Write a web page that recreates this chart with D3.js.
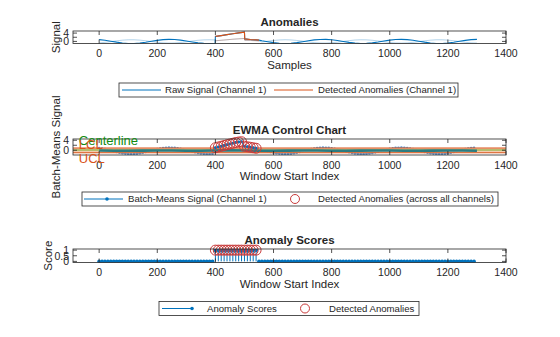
<!DOCTYPE html>
<html><head><meta charset="utf-8">
<script src="https://cdn.jsdelivr.net/npm/d3@7"></script>
<style>body{margin:0;background:#fff}svg{display:block}text{font-family:Arial,"Liberation Sans",Helvetica,sans-serif;fill:#262626}</style>
</head><body>
<script>
// ---------- DATA ----------
const xTicks = [0,200,400,600,800,1000,1200,1400];
const signalTicks = [0,2,4];
const signalTickLabels = ["0","","4"];
const ewmaTicks = [0,2,4];
const ewmaTickLabels = ["0","","4"];
const scoreTicks = [0,0.5,1];
const scoreTickLabels = ["0","0.5","1"];

const sampleIdx = [0,20,40,60,80,100,120,140,160,180,200,220,240,260,280,300,320,340,360,380,399,400,420,440,460,480,500,501,520,540,550,560,580,600,620,640,660,680,700,720,740,760,780,800,820,840,860,880,900,920,940,960,980,1000,1020,1040,1060,1080,1100,1120,1140,1160,1180,1200,1220,1240,1260,1280,1300];
const rawCh1 = [0.87,0.54,0.10,-0.36,-0.75,-0.97,-0.97,-0.77,-0.39,0.08,0.52,0.86,1.00,0.92,0.64,0.22,-0.25,-0.67,-0.93,-0.99,-0.86,2.40,2.80,3.25,3.70,4.10,4.45,1.20,0.95,0.75,0.60,0.33,-0.14,-0.57,-0.88,-1.00,-0.89,-0.59,-0.16,0.31,0.72,0.95,0.99,0.80,0.44,-0.02,-0.47,-0.82,-0.99,-0.94,-0.68,-0.28,0.19,0.62,0.91,1.00,0.87,0.54,0.10,-0.36,-0.75,-0.97,-0.98,-0.77,-0.39,0.08,0.52,0.85,1.00];
const rawCh2 = [-0.70,-0.43,-0.08,0.29,0.60,0.78,0.78,0.62,0.31,-0.06,-0.42,-0.69,-0.80,-0.74,-0.51,-0.18,0.20,0.54,0.74,0.79,0.70,0.30,0.55,0.80,1.05,1.25,1.40,0.55,0.45,0.35,0.25,-0.26,0.11,0.46,0.70,0.80,0.71,0.47,0.13,-0.25,-0.58,-0.76,-0.79,-0.64,-0.35,0.02,0.38,0.66,0.79,0.75,0.54,0.22,-0.15,-0.50,-0.73,-0.80,-0.70,-0.43,-0.08,0.29,0.60,0.78,0.78,0.62,0.31,-0.06,-0.42,-0.68,-0.80];
const anomSampleIdx = [400,420,440,460,480,500,501,520,540,550];
const anomCh1 = [2.40,2.80,3.25,3.70,4.10,4.45,1.20,0.95,0.75,0.60];
const anomCh2 = [0.30,0.55,0.80,1.05,1.25,1.40,0.55,0.45,0.35,0.25];

const windowIdx = [0,10,20,30,40,50,60,70,80,90,100,110,120,130,140,150,160,170,180,190,200,210,220,230,240,250,260,270,280,290,300,310,320,330,340,350,360,370,380,390,400,410,420,430,440,450,460,470,480,490,500,510,520,530,540,550,560,570,580,590,600,610,620,630,640,650,660,670,680,690,700,710,720,730,740,750,760,770,780,790,800,810,820,830,840,850,860,870,880,890,900,910,920,930,940,950,960,970,980,990,1000,1010,1020,1030,1040,1050,1060,1070,1080,1090,1100,1110,1120,1130,1140,1150,1160,1170,1180,1190,1200,1210,1220,1230,1240,1250,1260,1270,1280,1290];
const batchMeans = [0.88,0.70,0.47,0.20,-0.09,-0.39,-0.68,-0.95,-1.17,-1.34,-1.45,-1.49,-1.46,-1.36,-1.19,-0.97,-0.71,-0.42,-0.12,0.17,0.45,0.68,0.87,0.99,1.05,1.03,0.95,0.80,0.59,0.34,0.06,-0.24,-0.54,-0.82,-1.07,-1.27,-1.41,-1.48,-1.48,-1.42,
 1.00,1.30,1.60,1.90,2.20,2.50,2.80,3.10,3.30,3.40,1.60,1.40,1.20,1.00,0.80,
 0.47,0.20,-0.09,-0.39,-0.68,-0.95,-1.17,-1.34,-1.45,-1.49,-1.46,-1.36,-1.19,-0.97,-0.71,-0.42,-0.12,0.17,0.45,0.68,0.87,0.99,1.05,1.03,0.95,0.80,0.59,0.34,0.06,-0.24,-0.54,-0.82,-1.07,-1.27,-1.41,-1.48,-1.48,-1.42,-1.28,-1.09,-0.84,-0.57,-0.27,0.03,0.31,0.57,0.78,0.94,1.03,1.05,1.00,0.88,0.70,0.47,0.20,-0.09,-0.39,-0.68,-0.95,-1.17,-1.34,-1.45,-1.49,-1.46,-1.36,-1.19,-0.97,-0.71,-0.42,-0.12,0.17,0.45,0.68,0.87,0.99];
const ewmaIdx = [0,50,100,150,200,250,300,350,400,450,500,550,600,650,700,750,800,850,900,950,1000,1050,1100,1150,1200,1250,1300];
const ewmaValues = [-0.10,-0.18,-0.22,-0.15,-0.08,-0.12,-0.20,-0.22,-0.10,-0.05,-0.10,-0.20,-0.22,-0.15,-0.08,-0.10,-0.18,-0.22,-0.15,-0.08,-0.10,-0.18,-0.22,-0.15,-0.08,-0.12,-0.18];
const ucl = 0.9, centerline = 0.1, lcl = -1.0;
const controlLabels = ["Centerline","LCL","UCL"];
const anomalyWindows = [400,410,420,430,440,450,460,470,480,490,500,510,520,530,540];
const scores = [0,0,0,0,0,0,0,0,0,0,0,0,0,0,0,0,0,0,0,0,0,0,0,0,0,0,0,0,0,0,0,0,0,0,0,0,0,0,0,0,
 1,1,1,1,1,1,1,1,1,1,1,1,1,1,1,
 0,0,0,0,0,0,0,0,0,0,0,0,0,0,0,0,0,0,0,0,0,0,0,0,0,0,0,0,0,0,0,0,0,0,0,0,0,0,0,0,0,0,0,0,0,0,0,0,0,0,0,0,0,0,0,0,0,0,0,0,0,0,0,0,0,0,0,0,0,0,0,0,0,0,0];

// ---------- STYLE ----------
const BLUE = "#0072BD", ORANGE = "#D95319", RED = "#C93B3B", GREEN = "#77AC30", DKGREEN = "#128A12", TEAL = "#2B7B80", AX = "#262626";
const W = 560, H = 337;
const svg = d3.select("body").append("svg").attr("width", W).attr("height", H);
const x = d3.scaleLinear().domain([-90, 1400]).range([73, 506]);

function axesBox(y, opts) {
  const [top, bottom] = [y.range()[1], y.range()[0]];
  const g = svg.append("g");
  const id = "clip" + Math.round(top);
  svg.append("clipPath").attr("id", id).append("rect")
    .attr("x", 73).attr("y", top).attr("width", 433).attr("height", bottom - top);
  const plot = g.append("g").attr("clip-path", `url(#${id})`);
  const over = svg.append("g");
  const axg = svg.append("g").attr("class", "axes");
  axg.append("rect").attr("x", 73).attr("y", top).attr("width", 433).attr("height", bottom - top)
    .attr("fill", "none").attr("stroke", AX).attr("stroke-width", 0.8);
  const tl = 4;
  xTicks.forEach(t => {
    const px = x(t);
    axg.append("line").attr("x1", px).attr("x2", px).attr("y1", bottom).attr("y2", bottom - tl).attr("stroke", AX).attr("stroke-width", 0.8);
    axg.append("line").attr("x1", px).attr("x2", px).attr("y1", top).attr("y2", top + tl).attr("stroke", AX).attr("stroke-width", 0.8);
    axg.append("text").attr("x", px).attr("y", bottom + 13.5).attr("text-anchor", "middle").attr("font-size", 10.5).text(d3.format("d")(t));
  });
  opts.yTicks.forEach((t, i) => {
    const py = y(t);
    axg.append("line").attr("x1", 73).attr("x2", 73 + tl).attr("y1", py).attr("y2", py).attr("stroke", AX).attr("stroke-width", 0.8);
    axg.append("line").attr("x1", 506).attr("x2", 506 - tl).attr("y1", py).attr("y2", py).attr("stroke", AX).attr("stroke-width", 0.8);
    if (opts.yLabels[i]) axg.append("text").attr("x", 69).attr("y", py + 3.8).attr("text-anchor", "end").attr("font-size", 10.5).text(opts.yLabels[i]);
  });
  axg.append("text").attr("x", 289.5).attr("y", top - 5.5).attr("text-anchor", "middle").attr("font-size", 11.5).attr("font-weight", "bold").text(opts.title);
  axg.append("text").attr("x", 289.5).attr("y", bottom + 25).attr("text-anchor", "middle").attr("font-size", 11.5).text(opts.xlabel);
  axg.append("text").attr("transform", `translate(${opts.ylx},${(top + bottom) / 2}) rotate(-90)`).attr("text-anchor", "middle").attr("dy", "0.35em").attr("font-size", 11.5).text(opts.ylabel);
  return { plot, over, axg };
}

function legend(x0, x1, yc, items) {
  const g = svg.append("g");
  g.append("rect").attr("x", x0).attr("y", yc - 7).attr("width", x1 - x0).attr("height", 14).attr("fill", "#fff").attr("stroke", AX).attr("stroke-width", 0.8);
  items.forEach(it => {
    if (it.type === "line") {
      g.append("line").attr("x1", it.a).attr("x2", it.b).attr("y1", yc).attr("y2", yc).attr("stroke", it.color).attr("stroke-width", 1);
      if (it.dot != null) g.append("circle").attr("cx", it.dot).attr("cy", yc).attr("r", 1.8).attr("fill", it.color);
    } else {
      g.append("circle").attr("cx", it.a).attr("cy", yc).attr("r", 4.5).attr("fill", "none").attr("stroke", it.color).attr("stroke-width", 1);
    }
    g.append("text").attr("x", it.tx).attr("y", yc + 3.4).attr("font-size", 9.6).text(it.label);
  });
}

// ---------- PANEL 1 ----------
const y1 = d3.scaleLinear().domain([-1, 5]).range([43.5, 31]);
const p1 = axesBox(y1, { yTicks: signalTicks, yLabels: signalTickLabels, title: "Anomalies", xlabel: "Samples", ylabel: "Signal", ylx: 56 });
const line1 = d3.line().x(d => x(d[0])).y(d => y1(d[1]));
p1.plot.append("path").attr("d", line1(sampleIdx.map((s, i) => [s, rawCh2[i]]))).attr("fill", "none").attr("stroke", BLUE).attr("stroke-opacity", 0.3).attr("stroke-width", 1);
p1.plot.append("path").attr("d", line1(anomSampleIdx.map((s, i) => [s, anomCh2[i]]))).attr("fill", "none").attr("stroke", ORANGE).attr("stroke-opacity", 0.3).attr("stroke-width", 1);
p1.plot.append("path").attr("d", line1(sampleIdx.map((s, i) => [s, rawCh1[i]]))).attr("fill", "none").attr("stroke", BLUE).attr("stroke-width", 1.1);
p1.plot.append("path").attr("d", line1(anomSampleIdx.map((s, i) => [s, anomCh1[i]]))).attr("fill", "none").attr("stroke", ORANGE).attr("stroke-width", 1.1);
legend(119, 458, 90, [
  { type: "line", a: 122, b: 161, color: BLUE, tx: 165, label: "Raw Signal (Channel 1)" },
  { type: "line", a: 274, b: 313, color: ORANGE, tx: 318, label: "Detected Anomalies (Channel 1)" }
]);

// ---------- PANEL 2 ----------
const y2 = d3.scaleLinear().domain([-1.9, 4.5]).range([155, 139]);
const p2 = axesBox(y2, { yTicks: ewmaTicks, yLabels: ewmaTickLabels, title: "EWMA Control Chart", xlabel: "Window Start Index", ylabel: "Batch-Means Signal", ylx: 56 });
const line2 = d3.line().x(d => x(d[0])).y(d => y2(d[1]));
const bm = windowIdx.map((w, i) => [w, batchMeans[i]]);
p2.plot.append("path").attr("d", line2(bm)).attr("fill", "none").attr("stroke", BLUE).attr("stroke-opacity", 0.5).attr("stroke-width", 0.8);
p2.plot.selectAll("circle.bm").data(bm).enter().append("circle").attr("cx", d => x(d[0])).attr("cy", d => y2(d[1])).attr("r", 1.3).attr("fill", "#5A97D2");
p2.plot.append("rect").attr("x", 73).attr("width", 433).attr("y", y2(ucl)).attr("height", y2(lcl) - y2(ucl)).attr("fill", "#F2C9A8").attr("fill-opacity", 0.92);
[[ucl, ORANGE], [lcl, ORANGE], [centerline, GREEN]].forEach(([v, c]) => {
  p2.plot.append("line").attr("x1", 73).attr("x2", 506).attr("y1", y2(v)).attr("y2", y2(v)).attr("stroke", c).attr("stroke-width", 1.2);
});
p2.plot.append("path").attr("d", line2(ewmaIdx.map((w, i) => [w, ewmaValues[i]]))).attr("fill", "none").attr("stroke", TEAL).attr("stroke-width", 2.6);
const anomBm = bm.filter(d => anomalyWindows.includes(d[0]));
p2.plot.append("path").attr("d", line2(anomBm)).attr("fill", "none").attr("stroke", BLUE).attr("stroke-width", 1);
p2.plot.selectAll("circle.ab").data(anomBm).enter().append("circle").attr("cx", d => x(d[0])).attr("cy", d => y2(d[1])).attr("r", 1.4).attr("fill", BLUE);
p2.over.selectAll("circle.an").data(anomBm).enter().append("circle").attr("cx", d => x(d[0])).attr("cy", d => y2(d[1])).attr("r", 5).attr("fill", "none").attr("stroke", RED).attr("stroke-width", 1);
const labelPos = [[-70, 3.9, DKGREEN], [-70, 2.5, ORANGE], [-70, -3.3, ORANGE]];
controlLabels.forEach((t, i) => {
  svg.append("text").attr("x", x(labelPos[i][0])).attr("y", y2(labelPos[i][1])).attr("dy", "0.35em").attr("font-size", 13).style("fill", labelPos[i][2]).text(t);
});
legend(82, 498, 199, [
  { type: "line", a: 84, b: 123, dot: 107, color: BLUE, tx: 128, label: "Batch-Means Signal (Channel 1)" },
  { type: "circle", a: 295, color: RED, tx: 318, label: "Detected Anomalies (across all channels)" }
]);

// ---------- PANEL 3 ----------
const y3 = d3.scaleLinear().domain([-0.1, 1.1]).range([262.5, 249]);
const p3 = axesBox(y3, { yTicks: scoreTicks, yLabels: scoreTickLabels, title: "Anomaly Scores", xlabel: "Window Start Index", ylabel: "Score", ylx: 48 });
const sc = windowIdx.map((w, i) => [w, scores[i]]);
p3.plot.selectAll("line.stem").data(sc).enter().append("line").attr("x1", d => x(d[0])).attr("x2", d => x(d[0])).attr("y1", y3(0)).attr("y2", d => y3(d[1])).attr("stroke", BLUE).attr("stroke-width", 1);
p3.plot.selectAll("circle.sd").data(sc).enter().append("circle").attr("cx", d => x(d[0])).attr("cy", d => y3(d[1])).attr("r", 1.9).attr("fill", BLUE);
const scAnom = sc.filter(d => anomalyWindows.includes(d[0]));
p3.over.selectAll("circle.sa").data(scAnom).enter().append("circle").attr("cx", d => x(d[0])).attr("cy", d => y3(d[1])).attr("r", 5).attr("fill", "none").attr("stroke", RED).attr("stroke-width", 1);
legend(159, 419, 308.5, [
  { type: "line", a: 162, b: 192, dot: 192, color: BLUE, tx: 207, label: "Anomaly Scores" },
  { type: "circle", a: 305, color: RED, tx: 329, label: "Detected Anomalies" }
]);
</script>
</body></html>
